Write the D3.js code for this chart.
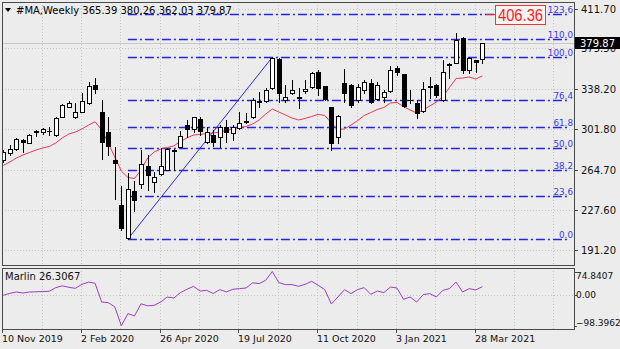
<!DOCTYPE html>
<html>
<head>
<meta charset="utf-8">
<script src="https://cdn.jsdelivr.net/npm/d3@7"></script>
<style>
  html, body { margin: 0; padding: 0; background: #ececec; }
  svg { display: block; }
  text { font-family: "DejaVu Sans", Tahoma, sans-serif; font-size: 10px; }
</style>
</head>
<body>
<svg id="chart" width="620" height="349"></svg>
<script>
// Weekly #MA bars, 10 Nov 2019 .. 4 Apr 2021
const openP  = [273.4,280.0,283.4,291.2,289.2,299.4,298.7,300.3,296.2,312.9,322.0,312.4,317.5,325.1,341.9,317.5,299.2,273.4,232.3,202.6,
                245.5,251.5,267.6,253.6,260.3,264.7,281.6,285.7,304.9,301.4,310.8,290.1,296.2,294.6,303.2,297.8,302.3,309.4,312.4,327.2,
                327.5,338.8,366.0,328.2,334.5,331.2,336.6,340.3,354.0,340.5,321.5,294.1,344.1,341.4,327.7,337.3,343.4,329.1,331.2,336.6,
                357.1,351.9,328.6,325.7,318.4,339.6,341.9,328.2,361.0,362.2,384.5,355.5,364.7,365.39];
const highP  = [282.5,287.1,293.5,292.5,297.1,300.8,303.0,303.5,312.6,324.5,327.5,325.4,334.5,344.9,348.0,328.2,312.6,285.7,249.6,261.5,
                254.2,282.5,277.9,262.7,284.3,284.3,283.0,299.9,309.9,312.9,312.4,303.8,300.8,305.3,309.9,305.3,317.5,316.6,330.0,335.7,
                338.8,367.2,366.5,341.9,346.4,339.1,346.4,354.0,355.5,340.9,322.0,314.5,356.5,342.8,342.8,346.4,347.1,344.6,337.3,359.2,
                359.2,352.3,337.3,328.2,344.9,349.4,342.8,364.7,361.9,389.1,385.4,367.7,364.9,380.26];
const lowP   = [272.0,277.9,282.5,281.0,288.9,295.3,297.1,296.2,295.7,312.6,321.5,311.7,317.2,324.5,335.0,274.3,277.9,237.8,209.5,201.25,
                226.8,247.8,246.0,244.2,259.7,264.2,264.2,285.2,294.4,299.2,296.2,288.6,286.2,285.5,290.1,291.6,301.4,306.9,311.7,322.0,
                326.6,338.2,326.6,326.6,333.6,320.9,334.3,338.8,332.7,328.6,282.5,288.6,326.6,322.0,326.3,334.3,325.1,328.2,326.6,335.7,
                351.0,321.8,325.1,311.4,317.5,329.7,330.9,327.5,348.0,361.7,352.5,352.5,354.0,362.03];
const closeP = [281.0,283.1,292.5,289.8,295.9,298.5,301.4,299.4,312.0,323.6,325.1,316.9,327.2,340.9,338.2,290.1,286.6,270.8,211.7,246.9,
                237.1,269.7,259.7,258.1,267.9,283.0,282.5,295.7,301.9,312.4,300.1,299.2,290.1,303.2,299.2,303.2,306.9,308.3,328.2,325.9,
                337.3,366.2,334.3,330.6,337.7,330.4,337.9,353.1,338.8,329.5,288.6,313.5,334.5,323.6,339.6,344.3,326.6,341.9,335.7,355.5,
                354.0,322.4,327.7,316.0,337.9,340.9,332.7,354.0,360.1,382.9,355.5,366.2,363.1,379.87];

// Moving average drawn over the candles
const maLine = [268.4,271.5,275.2,277.9,280.2,282.5,284.3,285.7,288.9,293.5,297.1,298.9,301.7,305.3,308.3,300.8,288.9,276.1,263.3,257.4,
                256.5,264.2,275.2,280.7,283.4,284.8,286.2,290.3,293.5,296.2,296.7,297.6,298.0,298.9,300.3,301.7,303.0,304.0,306.2,309.9,
                315.4,319.9,317.2,314.5,311.7,309.9,311.3,313.1,315.1,314.0,307.2,301.2,301.7,305.3,309.4,314.0,316.7,319.5,321.3,325.4,
                325.9,322.2,319.0,316.3,319.0,322.7,326.3,331.3,339.6,347.8,348.2,349.2,347.3,350.1];

// Marlin oscillator (lower window)
const marlin = [-1.3,5.0,9.3,6.1,9.3,9.9,10.9,11.5,23.3,29.0,24.3,21.0,33.9,40.9,37.1,-22.7,-24.6,-38.0,-98.3962,-59.8,
                -67.4,-28.4,-34.8,-33.2,-22.7,-6.7,-9.9,7.4,17.9,27.5,12.5,14.7,4.5,16.9,9.6,17.9,20.1,22.1,38.7,36.1,
                46.7,74.8407,39.3,32.9,32.9,27.5,33.9,43.5,30.7,16.9,-29.1,-6.7,16.9,4.2,16.9,23.3,1.9,12.5,7.4,25.2,
                22.1,-14.1,-6.7,-22.7,1.0,4.2,-6.7,14.7,20.1,41.2,9.3,20.1,15.7,26.3067];

const priceTicks  = [411.70, 375.50, 338.20, 301.80, 264.70, 227.60, 191.20];
const marlinTicks = [74.8407, 0.00, -98.3962];
const dateLabels  = ["10 Nov 2019", "2 Feb 2020", "26 Apr 2020", "19 Jul 2020", "11 Oct 2020", "3 Jan 2021", "28 Mar 2021"];
const dateBars    = [0, 12, 24, 36, 48, 60, 72];
const gridBars    = [0, 6, 12, 18, 24, 30, 36, 42, 48, 54, 60, 66, 72, 78, 84];

// Fibonacci grid anchored on the March 2020 low and the August 2020 high
const fibLevels = [0, 23.6, 38.2, 50, 61.8, 76.4, 100, 110, 123.6];
const fibLowBar = 19, fibHighBar = 41;
const fibLow = 201.25, fibHigh = 367.20;
const targetValue = 406.36;
const symbolTitle = "#MA,Weekly";
const marlinTitle = "Marlin";

const svg = d3.select("#chart");
const main = { left: 2, right: 574, top: 2, bottom: 265 };
const sub  = { left: 2, right: 574, top: 268, bottom: 329 };

const n = closeP.length;
const x = d3.scaleLinear().domain([0, n - 1]).range([3.2, 482.3]);
const y = d3.scaleLinear().domain([191.2, 411.7]).range([250, 8.5]);
const ym = d3.scaleLinear().domain([-98.3962, 74.8407]).range([325.7, 271.5]);
const px = i => Math.round(x(i)) + 0.5;

const gridColor = "#c4c4c4";
const frameColor = "#4a4a4a";

const defs = svg.append("defs");
defs.append("clipPath").attr("id", "clipMain").append("rect")
  .attr("x", main.left).attr("y", main.top).attr("width", main.right - main.left).attr("height", main.bottom - main.top);
defs.append("clipPath").attr("id", "clipSub").append("rect")
  .attr("x", sub.left).attr("y", sub.top).attr("width", sub.right - sub.left).attr("height", sub.bottom - sub.top);

// ---- grid ----
const grid = svg.append("g").attr("stroke", gridColor).attr("stroke-dasharray", "1,2").attr("shape-rendering", "crispEdges");
priceTicks.forEach(v => {
  const yy = Math.round(y(v)) + 0.5;
  grid.append("line").attr("x1", main.left).attr("x2", main.right).attr("y1", yy).attr("y2", yy);
});
grid.append("line").attr("x1", sub.left).attr("x2", sub.right)
  .attr("y1", Math.round(ym(0)) + 0.5).attr("y2", Math.round(ym(0)) + 0.5);
gridBars.forEach(i => {
  const xx = px(i) - 1;
  if (xx >= main.right - 2) return;
  grid.append("line").attr("x1", xx).attr("x2", xx).attr("y1", main.top).attr("y2", main.bottom);
  grid.append("line").attr("x1", xx).attr("x2", xx).attr("y1", sub.top).attr("y2", sub.bottom);
});

// ---- bid line ----
const lastClose = closeP[n - 1];
svg.append("line").attr("x1", main.left).attr("x2", main.right)
  .attr("y1", Math.round(y(lastClose)) + 0.5).attr("y2", Math.round(y(lastClose)) + 0.5)
  .attr("stroke", "#c8c8c8").attr("shape-rendering", "crispEdges");

const gMain = svg.append("g").attr("clip-path", "url(#clipMain)");

// ---- Fibonacci levels ----
const fibColor = "#2424e0";
const fibG = gMain.append("g");
const fibX1 = x(fibLowBar), fibX2 = 568;
fibLevels.forEach(l => {
  const v = fibLow + (fibHigh - fibLow) * l / 100;
  const yy = Math.round(y(v)) + 0.5;
  fibG.append("line").attr("x1", fibX1).attr("x2", fibX2).attr("y1", yy).attr("y2", yy)
    .attr("stroke", fibColor).attr("stroke-width", 1.4).attr("stroke-dasharray", "9,3,2,3");
  fibG.append("text").attr("x", 573).attr("y", yy - 2).attr("text-anchor", "end")
    .attr("fill", "#3a3ae0").style("font-size", "8.8px").text(d3.format(".1f")(l));
});
// trend line low -> high
gMain.append("line")
  .attr("x1", x(fibLowBar)).attr("y1", y(fibLow)).attr("x2", x(fibHighBar)).attr("y2", y(fibHigh))
  .attr("stroke", "#2a2ae8").attr("stroke-width", 1);

// ---- moving average ----
gMain.append("path").datum(maLine)
  .attr("fill", "none").attr("stroke", "#e63a58").attr("stroke-width", 1)
  .attr("d", d3.line().x((d, i) => x(i)).y(d => y(d)));

// ---- candles ----
const cg = gMain.append("g").attr("shape-rendering", "crispEdges");
for (let i = 0; i < n; i++) {
  const cx = px(i);
  const o = openP[i], c = closeP[i], h = highP[i], l = lowP[i];
  const up = c >= o;
  cg.append("line").attr("x1", cx).attr("x2", cx)
    .attr("y1", Math.round(y(h))).attr("y2", Math.round(y(l)) + 1).attr("stroke", "#000");
  const yt = Math.round(y(Math.max(o, c))) + 0.5;
  const yb = Math.round(y(Math.min(o, c))) + 0.5;
  cg.append("rect").attr("x", cx - 2).attr("y", yt).attr("width", 4).attr("height", Math.max(0.01, yb - yt))
    .attr("fill", up ? "#ffffff" : "#000000").attr("stroke", "#000");
}

// ---- target label ----
const ty = y(targetValue);
svg.append("line").attr("x1", 486).attr("x2", 496).attr("y1", Math.round(ty) + 0.5).attr("y2", Math.round(ty) + 0.5)
  .attr("stroke", "#ff2020");
svg.append("rect").attr("x", 495.5).attr("y", 5.5).attr("width", 50).attr("height", 19)
  .attr("fill", "#f4f4f4").attr("stroke", "#ff3030");
svg.append("text").attr("x", 498).attr("y", 21)
  .attr("fill", "#ff1a1a").style("font-family", "'Liberation Sans', Arial, sans-serif").style("font-size", "16px")
  .attr("textLength", 45).attr("lengthAdjust", "spacingAndGlyphs")
  .text(d3.format(".2f")(targetValue));

// ---- Marlin line ----
svg.append("g").attr("clip-path", "url(#clipSub)").append("path").datum(marlin)
  .attr("fill", "none").attr("stroke", "#a13cc2").attr("stroke-width", 1)
  .attr("d", d3.line().x((d, i) => x(i)).y(d => ym(d)));

// ---- frames ----
const fr = svg.append("g").attr("fill", "none").attr("stroke", frameColor).attr("shape-rendering", "crispEdges");
fr.append("rect").attr("x", main.left + 0.5).attr("y", main.top + 0.5)
  .attr("width", main.right - main.left).attr("height", main.bottom - main.top);
fr.append("rect").attr("x", sub.left + 0.5).attr("y", sub.top + 0.5)
  .attr("width", sub.right - sub.left).attr("height", sub.bottom - sub.top);

// ---- price axis ----
const ax = svg.append("g");
priceTicks.forEach(v => {
  const yy = Math.round(y(v)) + 0.5;
  ax.append("line").attr("x1", main.right).attr("x2", main.right + 4).attr("y1", yy).attr("y2", yy)
    .attr("stroke", frameColor).attr("shape-rendering", "crispEdges");
  ax.append("text").attr("x", 581).attr("y", yy + 3.5).attr("fill", "#111").text(d3.format(".2f")(v));
});
// last price box
const ly = Math.round(y(lastClose));
ax.append("rect").attr("x", 575).attr("y", ly - 6).attr("width", 45).attr("height", 12).attr("fill", "#000");
ax.append("text").attr("x", 580).attr("y", ly + 3.5).attr("fill", "#fff").text(d3.format(".2f")(lastClose));

// Marlin axis
marlinTicks.forEach(v => {
  const yy = Math.max(275.5, Math.min(322.5, ym(v)));
  ax.append("line").attr("x1", sub.right).attr("x2", sub.right + 3)
    .attr("y1", Math.round(ym(v)) + 0.5).attr("y2", Math.round(ym(v)) + 0.5)
    .attr("stroke", frameColor).attr("shape-rendering", "crispEdges");
  ax.append("text").attr("x", 576).attr("y", yy + 3.5).attr("fill", "#111")
    .style("font-size", "9px")
    .text(v === 0 ? "0.00" : d3.format(".4f")(v));
});

// ---- time axis ----
dateBars.forEach((b, k) => {
  const xx = px(b) - 1;
  ax.append("line").attr("x1", xx).attr("x2", xx).attr("y1", sub.bottom).attr("y2", sub.bottom + 4)
    .attr("stroke", frameColor).attr("shape-rendering", "crispEdges");
  ax.append("text").attr("x", xx - 0.5).attr("y", 342).attr("fill", "#111")
    .style("font-size", "9.5px").text(dateLabels[k]);
});

// ---- titles ----
svg.append("path").attr("d", "M5,8 L11,8 L8,12 Z").attr("fill", "#000");
svg.append("text").attr("x", 16).attr("y", 14).attr("fill", "#000")
  .text(symbolTitle + "  " + [openP[n - 1], highP[n - 1], lowP[n - 1], closeP[n - 1]].map(d3.format(".2f")).join(" "));
svg.append("text").attr("x", 5).attr("y", 280).attr("fill", "#111")
  .text(marlinTitle + " " + d3.format(".4f")(marlin[n - 1]));
</script>
</body>
</html>
